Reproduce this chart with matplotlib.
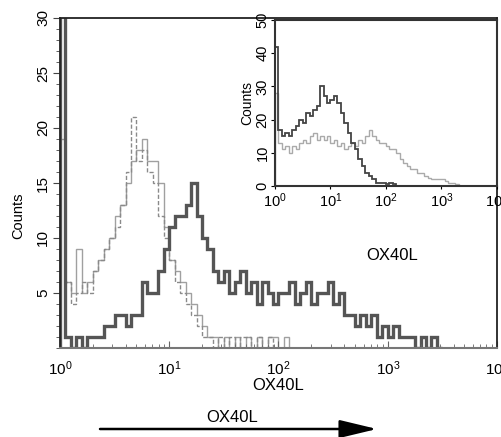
import numpy as np
import matplotlib
matplotlib.use("Agg")
import matplotlib.pyplot as plt

plt.rcParams['font.family'] = ['Liberation Sans', 'DejaVu Sans']
plt.rcParams['mathtext.fontset'] = 'custom'
plt.rcParams['mathtext.rm'] = 'Liberation Sans'

# main histogram, bins of 1/20 decade starting at 10^0
MAIN_BINS_PER_DECADE = 20
ox40l_stained = [60, 1, 0, 1, 0, 1, 1, 1, 2, 2, 3, 3, 2, 3, 3, 6, 5, 5, 7, 9,
                 11, 12, 12, 13, 15, 12, 10, 9, 7, 6, 7, 5, 6, 7, 5, 6, 4, 6, 5, 4,
                 5, 5, 6, 4, 5, 6, 4, 5, 5, 6, 4, 5, 3, 3, 2, 3, 2, 3, 1, 2,
                 1, 2, 1, 1, 1, 0, 1, 0, 1, 0]
control_solid = [19, 6, 5, 9, 5, 6, 7, 8, 9, 10, 12, 13, 15, 17, 18, 19, 17, 17, 15, 11,
                 8, 7, 6, 5, 4, 3, 2, 1, 1, 0, 1, 0, 1, 0, 1, 0, 1, 0, 1, 1,
                 0, 1, 0]
control_dashed = [40, 6, 4, 5, 6, 5, 7, 8, 9, 10, 11, 13, 16, 21, 17, 18, 16, 15, 12, 10,
                  8, 6, 5, 4, 3, 2, 1, 1, 0, 1, 0, 1, 0, 1, 1, 0, 1, 0, 1, 0]

# inset histogram, bins of 1/16 decade
INSET_BINS_PER_DECADE = 16
inset_dark = [42, 17, 15, 16, 15, 17, 18, 20, 19, 22, 21, 23, 24, 30, 27, 25, 26, 27, 25, 22,
              19, 16, 13, 11, 8, 6, 4, 3, 2, 1, 1, 1, 0.5, 1, 0.5, 0]
inset_gray = [28, 13, 11, 12, 10, 12, 11, 13, 14, 13, 15, 16, 14, 15, 14, 15, 13, 14, 12, 13,
              11, 12, 13, 12, 14, 13, 15, 17, 15, 14, 13, 13, 12, 11, 11, 10, 8, 7, 6, 5,
              5, 4, 4, 3, 2.5, 2, 2, 2, 2, 1.5, 1, 1, 0.5, 0]

main_yticks = [5, 10, 15, 20, 25, 30]
inset_yticks = [0, 10, 20, 30, 40, 50]
xticks = [1, 10, 100, 1000, 10000]


def log_edges(n, per_decade):
    return 10 ** (np.arange(n + 1) / per_decade)


fig = plt.figure(figsize=(5.02, 4.37), dpi=100)

ax = fig.add_axes([60 / 502, 1 - 348 / 437, 437 / 502, 330 / 437])
ax.stairs(control_solid, log_edges(len(control_solid), MAIN_BINS_PER_DECADE),
          color='#a0a0a0', lw=1.0)
ax.stairs(control_dashed, log_edges(len(control_dashed), MAIN_BINS_PER_DECADE),
          color='#8a8a8a', lw=1.0, ls=(0, (3, 1.5)))
ax.stairs(ox40l_stained, log_edges(len(ox40l_stained), MAIN_BINS_PER_DECADE),
          color='#555555', lw=2.4)
ax.set_xscale('log')
ax.set_xlim(1, 10000)
ax.set_ylim(0, 30)
ax.set_yticks(main_yticks)
ax.set_yticks(np.arange(0, 31, 1), minor=True)
ax.set_xticks(xticks)
ax.tick_params(axis='y', which='major', direction='out', length=5, labelsize=11,
               labelrotation=90, pad=2, color='#444444')
ax.tick_params(axis='y', which='minor', direction='out', length=3, color='#444444')
ax.tick_params(axis='x', which='major', direction='in', length=5, labelsize=11,
               pad=8, color='#666666')
ax.tick_params(axis='x', which='minor', direction='in', length=3, color='#666666')
for lab in ax.get_yticklabels():
    lab.set_va('center')
for side in ['left', 'top', 'right']:
    ax.spines[side].set_color('#222222')
    ax.spines[side].set_linewidth(1.3)
ax.spines['bottom'].set_color('#777777')
ax.spines['bottom'].set_linewidth(1.5)
ax.set_ylabel('Counts', fontsize=10.5)
ax.yaxis.set_label_coords(-0.08, 0.4)
ax.set_xlabel('OX40L', fontsize=12, labelpad=0)
ax.text(0.76, 0.28, 'OX40L', transform=ax.transAxes, fontsize=12,
        ha='center', va='center')

# inset
ins = fig.add_axes([275 / 502, 1 - 186 / 437, 222 / 502, 166 / 437])
ins.stairs(inset_gray, log_edges(len(inset_gray), INSET_BINS_PER_DECADE),
           color='#aaaaaa', lw=1.0)
ins.stairs(inset_dark, log_edges(len(inset_dark), INSET_BINS_PER_DECADE),
           color='#444444', lw=1.3)
ins.set_xscale('log')
ins.set_xlim(1, 10000)
ins.set_ylim(0, 50)
ins.set_yticks(inset_yticks)
ins.set_xticks(xticks)
ins.xaxis.set_minor_locator(matplotlib.ticker.NullLocator())
ins.tick_params(axis='y', direction='out', length=3, labelsize=10.5,
                labelrotation=90, pad=1)
ins.tick_params(axis='x', direction='out', length=2, labelsize=10.5, pad=2)
for lab in ins.get_yticklabels():
    lab.set_va('center')
for side in ins.spines:
    ins.spines[side].set_color('#333333')
    ins.spines[side].set_linewidth(1.5)
ins.set_ylabel('Counts', fontsize=10, labelpad=1)

# arrow below the axis
fig.text(232 / 502, 1 - 417 / 437, 'OX40L', fontsize=12, ha='center', va='center')
fig.add_artist(matplotlib.patches.FancyArrowPatch(
    (100 / 502, 1 - 429 / 437), (377 / 502, 1 - 429 / 437),
    transform=fig.transFigure, arrowstyle='-|>,head_length=1.0,head_width=0.24',
    mutation_scale=23, color='black', lw=1.8, shrinkA=0, shrinkB=0))

fig.savefig('out.png', dpi=100)
